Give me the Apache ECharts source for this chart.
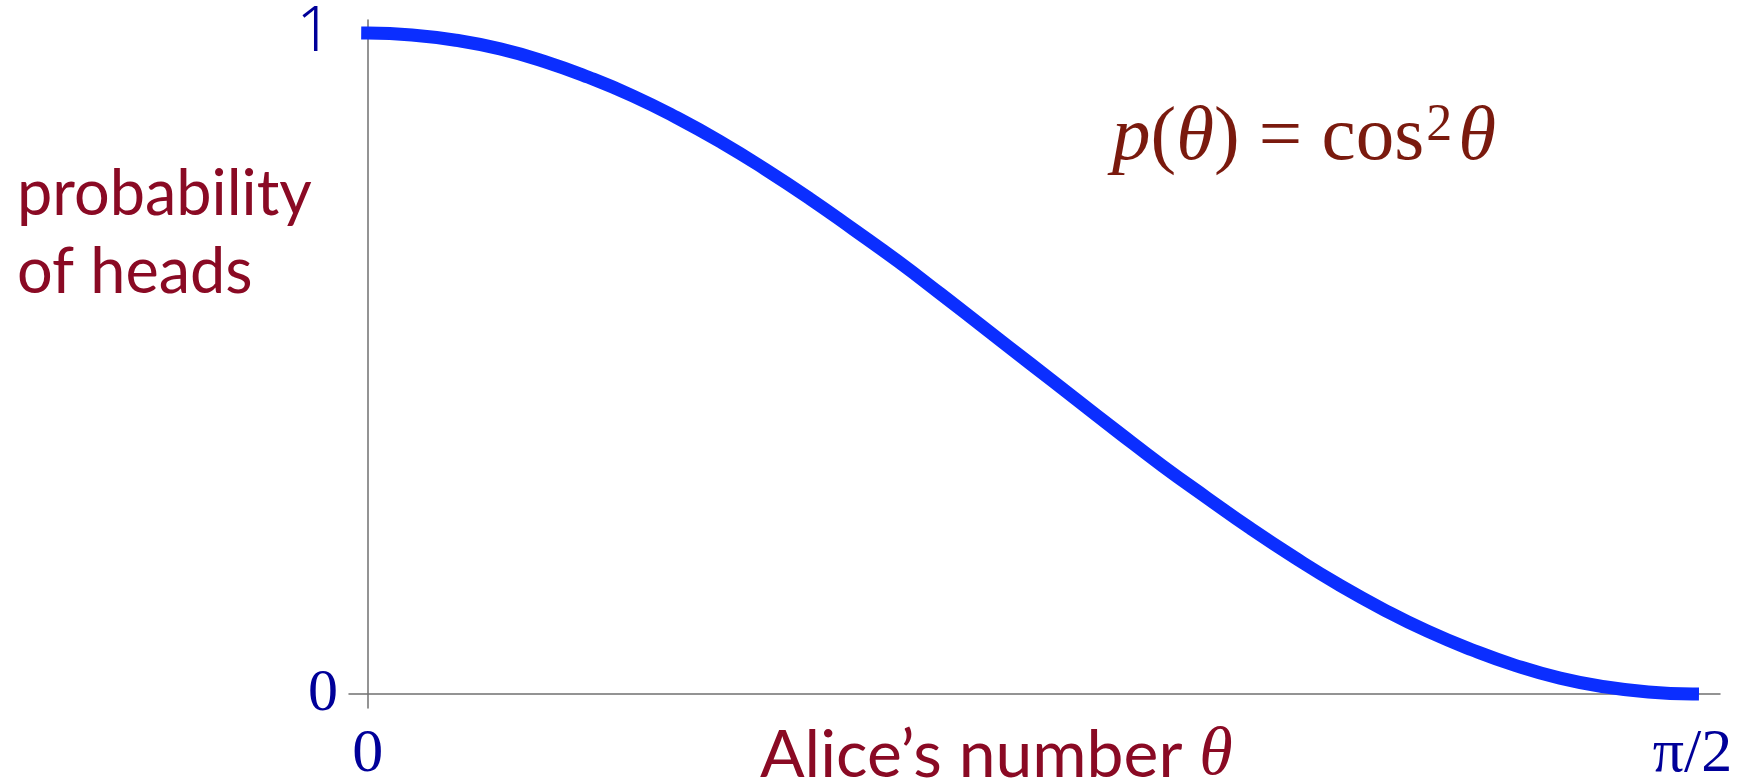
<!DOCTYPE html>
<html>
<head>
<meta charset="utf-8">
<title>Probability of heads</title>
<script src="https://cdn.jsdelivr.net/npm/echarts@6/dist/echarts.min.js"></script>
<style>
  html, body { margin: 0; padding: 0; background: #ffffff; }
  #chart { width: 1745px; height: 782px; }
</style>
</head>
<body>
<div id="chart"></div>
<script>
// Alice's number θ, in degrees (0 … 90 = π/2)
const thetaDeg = [0, 3, 6, 9, 12, 15, 18, 21, 24, 27, 30, 33, 36, 39, 42, 45,
                  48, 51, 54, 57, 60, 63, 66, 69, 72, 75, 78, 81, 84, 87, 90];
// probability of heads at each θ
const probHeads = [1.000, 0.997, 0.989, 0.976, 0.957, 0.933, 0.905, 0.872, 0.835, 0.794,
                   0.750, 0.703, 0.655, 0.604, 0.552, 0.500, 0.448, 0.396, 0.345, 0.297,
                   0.250, 0.206, 0.165, 0.128, 0.095, 0.067, 0.043, 0.024, 0.011, 0.003, 0.000];
// tick positions and their labels
const xTicks = [0, 90];
const xTickLabels = ['0', 'π/2'];
const yTicks = [0, 1];
const yTickLabels = ['0', '1'];

const points = thetaDeg.map((t, i) => [t, probHeads[i]]);

const darkRed = '#8a0a24';
const navy = '#000099';

const chart = echarts.init(document.getElementById('chart'), null, { renderer: 'canvas' });
chart.setOption({
  animation: false,
  backgroundColor: '#ffffff',
  grid: { left: 349, right: 25, top: 20, bottom: 74, containLabel: false, outerBoundsMode: 'none' },
  xAxis: {
    type: 'value',
    min: -1.27,
    max: 91.87,
    axisLine: { show: true, onZero: true, lineStyle: { color: '#707070', width: 1.5 } },
    axisTick: { show: false },
    splitLine: { show: false },
    axisLabel: {
      customValues: xTicks,
      margin: 16,
      align: 'center',
      fontFamily: 'Liberation Serif',
      fontSize: 62,
      color: navy,
      formatter: v => xTickLabels[xTicks.indexOf(v)]
    }
  },
  yAxis: {
    type: 'value',
    min: -0.0212,
    max: 1.0197,
    axisLine: { show: true, onZero: true, lineStyle: { color: '#707070', width: 1.5 } },
    axisTick: { show: false },
    splitLine: { show: false },
    axisLabel: {
      customValues: yTicks,
      margin: 11,
      formatter: v => (v === 1 ? '{a|' : '{b|') + yTickLabels[yTicks.indexOf(v)] + '}',
      rich: {
        a: { fontFamily: 'Noto Sans', fontWeight: 300, fontSize: 62, color: navy, padding: [0, 6, 0, 0] },
        b: { fontFamily: 'Liberation Serif', fontSize: 60, color: navy }
      }
    }
  },
  series: [{
    type: 'line',
    data: points,
    smooth: 0.5,
    showSymbol: false,
    lineStyle: { color: '#0b2eff', width: 13, cap: 'square', join: 'round' }
  }],
  graphic: [
    {
      type: 'text',
      left: 17, top: 156,
      style: {
        text: 'probability\nof heads',
        font: '63px Lato',
        lineHeight: 78,
        fill: darkRed
      }
    },
    {
      type: 'text',
      left: 760, top: 722,
      style: {
        text: 'Alice’s number {t|θ}',
        font: '66px Lato',
        fill: darkRed,
        rich: { t: { fontFamily: 'Liberation Serif', fontStyle: 'italic', fontSize: 68, fill: darkRed } }
      }
    },
    {
      type: 'text',
      left: 1112, top: 100,
      style: {
        text: '{i|p}({i|θ}) = cos{sup|2}{i|θ}',
        font: '77px "Liberation Serif"',
        fill: '#7a1a0e',
        rich: {
          i: { fontFamily: 'Liberation Serif', fontStyle: 'italic', fontSize: 77, fill: '#7a1a0e' },
          sup: { fontFamily: 'Liberation Serif', fontSize: 52, fill: '#7a1a0e', verticalAlign: 'top', padding: [0, 6, 0, 2] }
        }
      }
    }
  ]
});
</script>
</body>
</html>
